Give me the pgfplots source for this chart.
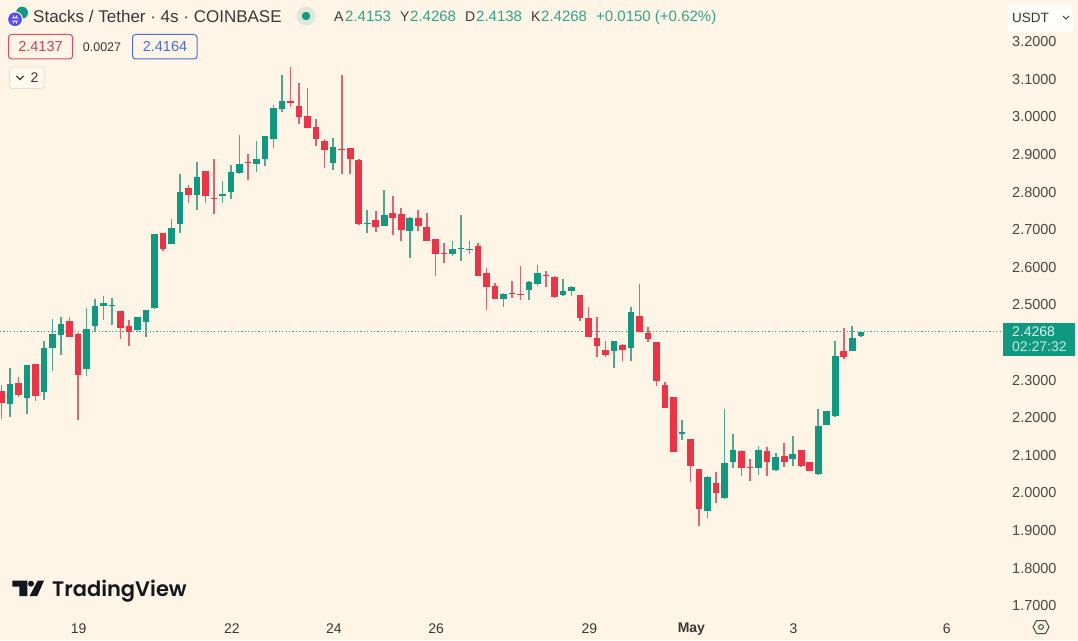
\documentclass[border=0pt]{standalone}
\usepackage{pgfplots}
\usepackage{pgfplotstable}
\usepackage{fontspec}
\pgfplotsset{compat=1.18}
\setmainfont{Liberation Sans}
\newfontfamily\tvfont[UprightFont=* SemiBold]{Poppins}
\definecolor{bg}{HTML}{FFF5E7}
\definecolor{upc}{HTML}{0E9A80}
\definecolor{upw}{HTML}{4FA88F}
\definecolor{dnc}{HTML}{EE3347}
\definecolor{dnw}{HTML}{DE6474}
\definecolor{txt}{HTML}{3A3836}
\definecolor{axt}{HTML}{4A4744}
\definecolor{hdgreen}{HTML}{2EA586}
\definecolor{rbox}{HTML}{DF4A66}
\definecolor{bbox}{HTML}{4A6FD0}
\definecolor{stx}{HTML}{5546FF}
\definecolor{boxe}{HTML}{E3DCD3}
\definecolor{boxf}{HTML}{FFF8EE}
\definecolor{usd}{HTML}{FFFDF9}
\definecolor{tv}{HTML}{14161D}
\definecolor{dotc}{HTML}{2EA586}
\pgfplotstableread{
x o h l c
1 2.234 2.329 2.201 2.288
3 2.251 2.337 2.207 2.337
5 2.267 2.402 2.245 2.384
6 2.384 2.460 2.323 2.421
7 2.418 2.465 2.365 2.447
10 2.328 2.491 2.310 2.435
11 2.441 2.513 2.427 2.495
12 2.494 2.523 2.457 2.502
13 2.494 2.517 2.444 2.498
16 2.431 2.465 2.425 2.465
17 2.452 2.485 2.413 2.485
18 2.490 2.687 2.487 2.687
20 2.659 2.727 2.659 2.702
21 2.712 2.845 2.690 2.798
23 2.790 2.877 2.751 2.838
26 2.788 2.827 2.768 2.792
27 2.799 2.870 2.780 2.852
28 2.849 2.950 2.845 2.874
30 2.873 2.934 2.852 2.887
31 2.885 2.946 2.868 2.946
32 2.940 3.029 2.916 3.023
33 3.020 3.109 3.010 3.040
39 2.875 2.943 2.858 2.917
43 2.712 2.750 2.688 2.715
45 2.707 2.803 2.707 2.736
48 2.694 2.733 2.622 2.728
53 2.634 2.667 2.628 2.647
54 2.647 2.737 2.614 2.649
55 2.645 2.667 2.634 2.648
59 2.515 2.529 2.493 2.526
62 2.538 2.562 2.512 2.559
63 2.555 2.603 2.548 2.582
66 2.524 2.566 2.522 2.534
67 2.536 2.548 2.523 2.545
72 2.376 2.401 2.329 2.401
74 2.384 2.492 2.349 2.479
80 2.154 2.192 2.138 2.160
83 1.949 2.042 1.932 2.041
85 1.985 2.220 1.981 2.077
86 2.079 2.155 2.064 2.111
89 2.063 2.122 2.046 2.111
91 2.058 2.103 2.057 2.094
93 2.088 2.149 2.070 2.101
96 2.048 2.221 2.047 2.176
97 2.178 2.216 2.178 2.215
98 2.203 2.401 2.201 2.362
100 2.376 2.442 2.376 2.411
101 2.4153 2.4268 2.4138 2.4268
}\upT
\pgfplotstableread{
x o h l c
0 2.269 2.285 2.194 2.238
2 2.290 2.306 2.254 2.258
4 2.341 2.341 2.243 2.256
8 2.454 2.467 2.414 2.414
9 2.421 2.423 2.192 2.312
14 2.482 2.483 2.408 2.437
15 2.442 2.457 2.390 2.427
19 2.689 2.689 2.642 2.647
22 2.809 2.817 2.770 2.790
24 2.855 2.855 2.769 2.787
25 2.783 2.887 2.741 2.781
29 2.879 2.900 2.831 2.875
34 3.041 3.130 3.024 3.035
35 3.027 3.089 2.980 2.999
36 3.001 3.074 2.969 2.969
37 2.972 2.992 2.922 2.938
38 2.933 2.938 2.863 2.909
40 2.913 3.110 2.845 2.909
41 2.915 2.916 2.845 2.886
42 2.884 2.885 2.711 2.712
44 2.723 2.749 2.692 2.704
46 2.742 2.788 2.685 2.730
47 2.741 2.756 2.669 2.698
49 2.728 2.751 2.695 2.707
50 2.706 2.743 2.669 2.669
51 2.673 2.673 2.574 2.634
52 2.636 2.662 2.609 2.634
56 2.655 2.662 2.575 2.575
57 2.582 2.595 2.485 2.545
58 2.548 2.556 2.513 2.514
60 2.529 2.562 2.517 2.526
61 2.527 2.602 2.511 2.524
64 2.578 2.589 2.545 2.574
65 2.571 2.576 2.517 2.518
68 2.524 2.524 2.456 2.462
69 2.463 2.493 2.412 2.413
70 2.410 2.467 2.360 2.388
71 2.377 2.403 2.360 2.366
73 2.392 2.393 2.348 2.377
75 2.468 2.555 2.426 2.427
76 2.423 2.439 2.399 2.408
77 2.399 2.399 2.283 2.296
78 2.284 2.292 2.225 2.225
79 2.254 2.254 2.106 2.106
81 2.141 2.142 2.026 2.069
82 2.062 2.062 1.911 1.956
84 2.025 2.053 1.971 1.998
87 2.110 2.111 2.043 2.065
88 2.067 2.087 2.031 2.064
90 2.110 2.121 2.043 2.080
92 2.096 2.130 2.068 2.080
94 2.111 2.111 2.068 2.069
95 2.080 2.080 2.056 2.056
99 2.376 2.436 2.355 2.359
}\dnT
\begin{document}
\begin{tikzpicture}[x=1pt,y=1pt]
\useasboundingbox (0,0) rectangle (1078,640);
\fill[bg] (0,0) rectangle (1078,640);
\begin{axis}[
  at={(0pt,24pt)},anchor=south west,
  width=1003pt,height=616pt,scale only axis,
  xmin=-0.153,xmax=117.71,ymin=1.6707,ymax=3.309,
  axis line style={draw=none},
  major tick length=0pt,
  tick style={draw=none},
  xtick={9,27,39,51,69,81,93,111},
  xticklabels={19,22,24,26,29,\textbf{May},3,6},
  ytick={1.7,1.8,1.9,2.0,2.1,2.2,2.3,2.5,2.6,2.7,2.8,2.9,3.0,3.1,3.2},
  yticklabel pos=right,
  yticklabel style={/pgf/number format/fixed,/pgf/number format/fixed zerofill,/pgf/number format/precision=4,/pgf/number format/assume math mode=true,
    font=\fontsize{14.5}{16}\selectfont,text=axt,anchor=west,inner sep=0pt,xshift=9pt,yshift=-0.8pt},
  xticklabel style={font=\fontsize{14}{16}\selectfont,text=txt,anchor=center,inner sep=0pt,yshift=-13pt,xshift=0.8pt},
  enlargelimits=false,
]
\addplot[draw=dotc,line width=1.1pt,dash pattern=on 1.1pt off 2.3pt,forget plot] coordinates {(-0.153,2.4268) (117.71,2.4268)};
\addplot[draw=upw,line width=1.6pt,quiver={u=0,v=\thisrow{h}-\thisrow{l}}] table[x=x,y=l] {\upT};
\addplot[draw=dnw,line width=1.6pt,quiver={u=0,v=\thisrow{h}-\thisrow{l}}] table[x=x,y=l] {\dnT};
\addplot[draw=upc,line width=6.6pt,quiver={u=0,v=\thisrow{c}-\thisrow{o}}] table[x=x,y=o] {\upT};
\addplot[draw=dnc,line width=6.6pt,quiver={u=0,v=\thisrow{c}-\thisrow{o}}] table[x=x,y=o] {\dnT};
\end{axis}
\begin{scope}[shift={(0,640)},y=-1pt]
% header
\fill[upc] (22,12.7) circle (6);
\fill[white] (15,19.3) circle (8);
\fill[stx] (15,19.3) circle (6.8);
\draw[white,line width=0.9pt] (11.5,18) -- (18.5,18) (11.5,21) -- (18.5,21) (13,15.5) -- (14.5,18) (17,15.5) -- (15.5,18) (14.5,21) -- (13,23.5) (15.5,21) -- (17,23.5);
\node[anchor=base west,inner sep=0,text=txt] at (33,23) {\fontsize{17}{20}\selectfont Stacks / Tether · 4s · COINBASE};
\fill[upc!14!bg] (306,16) circle (9.5);
\fill[upc] (306,16) circle (4.2);
\node[anchor=base west,inner sep=0,text=txt] at (334,22) {\fontsize{14}{16}\selectfont A};
\node[anchor=base west,inner sep=0,text=hdgreen] at (345,22) {\fontsize{15}{16}\selectfont 2.4153};
\node[anchor=base west,inner sep=0,text=txt] at (400,22) {\fontsize{14}{16}\selectfont Y};
\node[anchor=base west,inner sep=0,text=hdgreen] at (410,22) {\fontsize{15}{16}\selectfont 2.4268};
\node[anchor=base west,inner sep=0,text=txt] at (465,22) {\fontsize{14}{16}\selectfont D};
\node[anchor=base west,inner sep=0,text=hdgreen] at (476,22) {\fontsize{15}{16}\selectfont 2.4138};
\node[anchor=base west,inner sep=0,text=txt] at (531,22) {\fontsize{14}{16}\selectfont K};
\node[anchor=base west,inner sep=0,text=hdgreen] at (541,22) {\fontsize{15}{16}\selectfont 2.4268};
\node[anchor=base west,inner sep=0,text=hdgreen] at (596,22) {\fontsize{15}{16}\selectfont +0.0150 (+0.62\%)};
% boxes
\draw[rbox,line width=1pt,rounded corners=3pt] (8.5,34.5) rectangle (72.5,59);
\node[text=rbox!90!black,inner sep=0] at (40.5,47) {\fontsize{14.5}{16}\selectfont 2.4137};
\node[text=txt,inner sep=0] at (102,47) {\fontsize{12.5}{14}\selectfont 0.0027};
\draw[bbox,line width=1pt,rounded corners=3pt] (132.5,34.5) rectangle (197,59);
\node[text=bbox,inner sep=0] at (165,47) {\fontsize{14.5}{16}\selectfont 2.4164};
\draw[boxe,fill=boxf,line width=0.8pt,rounded corners=3pt] (9.5,67) rectangle (44,88.5);
\draw[txt,line width=1.1pt] (16.5,76) -- (20,79.5) -- (23.5,76);
\node[text=txt,inner sep=0] at (34.5,78) {\fontsize{14}{16}\selectfont 2};
% USDT
\fill[usd,rounded corners=3pt] (1008,4) rectangle (1073,32);
\node[anchor=base west,text=txt,inner sep=0] at (1012,23) {\fontsize{13.5}{16}\selectfont USDT};
\draw[txt,line width=1pt] (1063,16) -- (1066,19) -- (1069,16);
% price tag
\fill[upc] (1003,323) rectangle (1075,356);
\node[anchor=base west,text=white!88!upc,inner sep=0] at (1012,336.5) {\fontsize{14}{14}\selectfont 2.4268};
\node[anchor=base west,text=white!78!upc,inner sep=0] at (1012,352) {\fontsize{14}{14}\selectfont 02:27:32};
% logo
\fill[tv] (12.3,580.7) -- (27.3,580.7) -- (27.3,596) -- (19.3,596) -- (19.3,586.7) -- (12.3,586.7) -- cycle;
\fill[tv] (31,583.7) circle (3);
\fill[tv] (37.7,580.7) -- (44,580.7) -- (37.2,596) -- (29.6,596) -- cycle;
\node[anchor=base west,text=tv,inner sep=0] at (52,596) {\tvfont\fontsize{21}{24}\selectfont TradingView};
% gear
\draw[axt,line width=1pt,line join=round] (1036.5,620.5) -- (1045.5,620.5) -- (1049,627) -- (1045.5,633.5) -- (1036.5,633.5) -- (1033,627) -- cycle;
\draw[axt,line width=1pt] (1041,627) circle (2.4);
\end{scope}
\end{tikzpicture}
\end{document}
